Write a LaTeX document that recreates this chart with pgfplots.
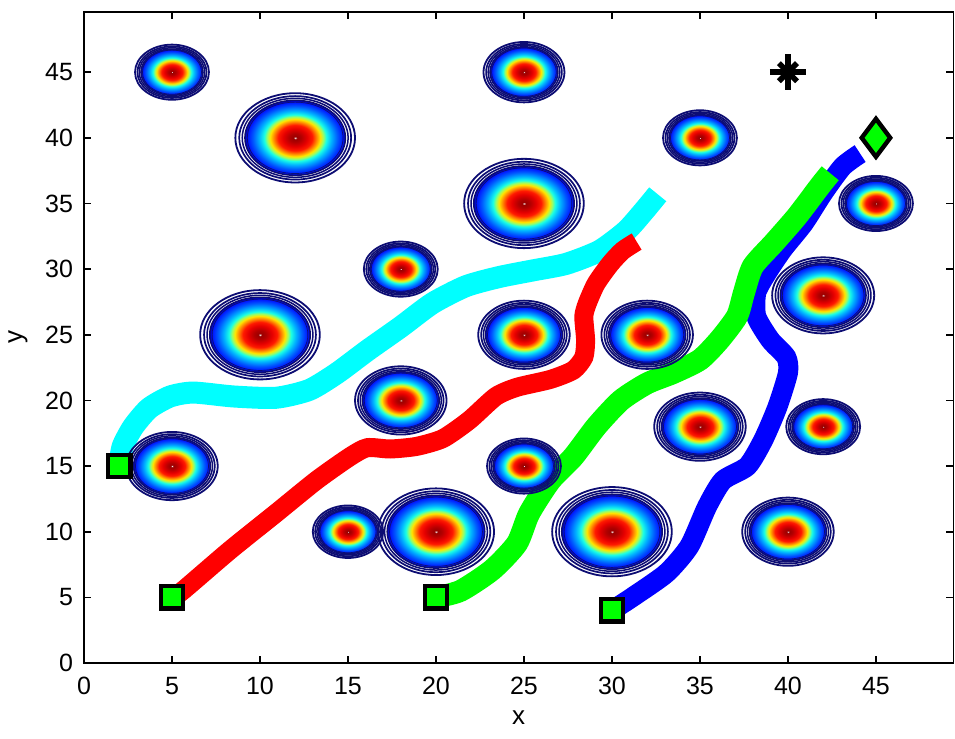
\documentclass[border=0pt]{standalone}
\usepackage{pgfplots}
\pgfplotsset{compat=1.18}
\usepackage{fontspec}
\setmainfont{Liberation Sans}

% jet-like radial fill of an obstacle, 25bp = edge of the filled part
\pgfdeclareradialshading{jetobs}{\pgfpointorigin}{%
  rgb(0bp)=(1,1,1); rgb(0.8bp)=(0.6,0,0); rgb(3bp)=(0.7,0,0);
  rgb(6bp)=(0.9,0,0); rgb(8.5bp)=(1,0.1,0); rgb(10.5bp)=(1,0.5,0);
  rgb(12.5bp)=(1,0.9,0); rgb(14bp)=(0.6,1,0.4); rgb(15.5bp)=(0.1,1,0.9);
  rgb(18bp)=(0,0.7,1); rgb(21bp)=(0,0.35,1); rgb(23.5bp)=(0,0.1,1);
  rgb(25bp)=(0,0,0.75); rgb(50bp)=(0,0,0.75)}
\definecolor{ring}{rgb}{0.05,0.05,0.45}
\definecolor{pcyan}{rgb}{0,1,1}
\definecolor{pred}{rgb}{1,0,0}
\definecolor{pgreen}{rgb}{0,1,0}
\definecolor{pblue}{rgb}{0,0,1}
\pgfdeclareplotmark{nothing}{}

\newcommand\obsring[2]{%
  \pgfmathsetmacro\ra{#1*\rx}\pgfmathsetmacro\rb{#1*\ry}%
  \pgfsetlinewidth{#2}%
  \pgfpathellipse{\pgfpointorigin}{\pgfpoint{\ra pt}{0pt}}{\pgfpoint{0pt}{\rb pt}}%
  \pgfusepath{stroke}}

\pgfplotstableread{
x y r
5 45 2.1
25 45 2.3
12 40 3.4
35 40 2.1
25 35 3.4
45 35 2.1
18 30 2.1
10 25 3.4
25 25 2.6
32 25 2.6
42 28 2.9
18 20 2.6
35 18 2.6
42 18 2.1
5 15 2.6
25 15 2.1
15 10 2.0
20 10 3.3
30 10 3.4
40 10 2.6
}\obstacles

\begin{document}
\begin{tikzpicture}
\begin{axis}[
    x=8.8pt, y=6.565pt,
    xmin=0, xmax=49.4, ymin=0, ymax=49.6,
    xtick={0,5,...,45}, ytick={0,5,...,45},
    tick align=inside,
    major tick length=3.5pt,
    tick style={black, line width=0.8pt},
    axis line style={black, line width=0.9pt},
    /pgf/number format/assume math mode=true,
    tick label style={font=\fontsize{12.5}{14}\selectfont},
    xticklabel style={yshift=-3.5pt},
    yticklabel style={xshift=-2pt},
    label style={font=\fontsize{13}{15}\selectfont},
    xlabel={x}, ylabel={y},
    xlabel style={at={(axis description cs:0.5,-0.0845)}, anchor=center},
    ylabel style={at={(axis description cs:-0.0759,0.5)}, anchor=center},
    clip=false,
]
% obstacles: concentric jet-coloured contours
\addplot[scatter, only marks, mark=nothing,
    visualization depends on={\thisrow{r} \as \rr},
    scatter/@pre marker code/.code={%
      \pgfmathsetmacro\rx{\rr*8.8}%
      \pgfmathsetmacro\ry{\rr*6.565}%
      \pgfmathsetmacro\ra{0.84*\rx}\pgfmathsetmacro\rb{0.84*\ry}%
      \pgfpathellipse{\pgfpointorigin}{\pgfpoint{\ra pt}{0pt}}{\pgfpoint{0pt}{\rb pt}}%
      \pgfshadepath{jetobs}{0}%
      \pgfusepath{discard}%
      \pgfsetstrokecolor{ring}%
      \obsring{1}{0.9pt}\obsring{0.935}{0.85pt}\obsring{0.885}{0.75pt}%
      \obsring{0.84}{0.75pt}\obsring{0.8}{0.35pt}%
    },
    scatter/@post marker code/.code={},
] table[x=x, y=y] {\obstacles};

% paths
\addplot[pcyan, line width=11pt, smooth, tension=0.4] coordinates {
(2,15) (2.2,16.5) (2.8,18) (3.7,19.4) (4.9,20.3) (6.2,20.6) (8.5,20.3)
(10.9,20.2) (12.8,20.8) (14.4,22.1) (16.1,23.8) (18,25.6) (19.8,27.4)
(21.7,28.7) (23.6,29.4) (25.5,29.9) (27.4,30.4) (29.3,31.4) (30.8,32.9)
(31.8,34.4) (32.6,35.7)
};
\addplot[pred, line width=9.5pt, smooth, tension=0.4] coordinates {
(5,5) (5.6,5.5) (8.3,8.6) (10.9,11.4) (13.2,13.9) (15.1,15.7) (16.1,16.4)
(17.4,16.3) (18.9,16.5) (20.4,17.1) (21.9,18.5) (23.4,20.3) (24.6,21)
(26.5,21.6) (27.8,22.3) (28.4,23.3) (28.5,24.6) (28.4,26.4) (28.6,27.4)
(29.1,28.9) (29.9,30.4) (30.6,31.4) (31.4,32.1)
};
\addplot[pblue, line width=10pt, smooth, tension=0.4] coordinates {
(30,4) (31.2,5.05) (33.1,6.85) (34.4,8.9) (35.4,11.9) (36.3,13.9) (37.7,15)
(38.6,17) (39.4,19.5) (40,22.1) (39.9,23.3) (39,24.6) (38.2,26.4) (38.2,28.2)
(38.8,29.7) (39.7,31.5) (40.9,33.5) (42,35.8) (43.1,37.8) (44.1,38.8)
};
\addplot[pgreen, line width=11pt, smooth, tension=0.4] coordinates {
(20,5) (21.4,5.5) (23.2,7.1) (24.6,9.1) (25.3,11.4) (26.5,13.9) (27.8,15.7)
(29.1,18) (30.5,20) (32,21.3) (33.5,22.1) (35,23.1) (36.1,24.6) (37.1,26.4)
(37.5,28.2) (38,30.2) (39.2,32) (40.5,34) (41.8,36.3) (42.4,37.3)
};

% start points, goal and target
\addplot[only marks, mark=square*, mark size=5.6pt,
    mark options={fill=pgreen, draw=black, line width=2.2pt}] coordinates {
(2,15) (5,5) (20,5) (30,4)
};
\addplot[only marks, mark=diamond*, mark size=9.5pt,
    mark options={fill=pgreen, draw=black, line width=2.2pt}] coordinates {(45,40)};
\addplot[only marks, mark=+, mark size=9pt,
    mark options={black, line width=2.8pt}] coordinates {(40,45)};
\addplot[only marks, mark=x, mark size=6.4pt,
    mark options={black, line width=2.8pt}] coordinates {(40,45)};
\end{axis}
\pgfresetboundingbox
\path ([xshift=-42pt,yshift=-37.5pt]current axis.south west)
  rectangle ([xshift=0.8pt,yshift=5.9pt]current axis.north east);
\end{tikzpicture}
\end{document}
